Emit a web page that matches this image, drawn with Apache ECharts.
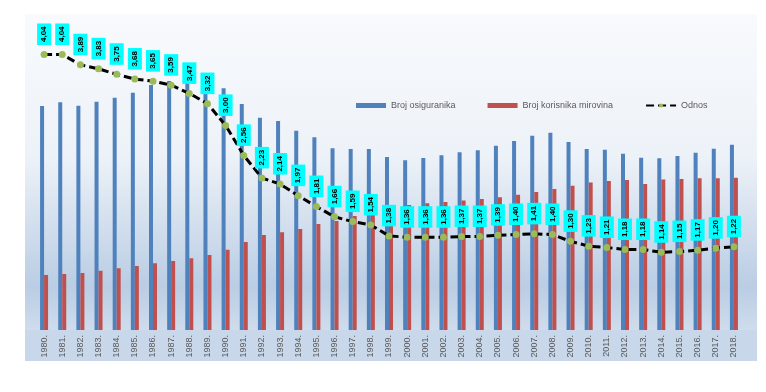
<!DOCTYPE html>
<html>
<head>
<meta charset="utf-8">
<script src="https://cdn.jsdelivr.net/npm/echarts@6/dist/echarts.min.js"></script>
<style>html,body{margin:0;padding:0;background:#fff}#c{width:766px;height:392px}</style>
</head>
<body>
<div id="c"></div>
<script>
const years = ['1980.','1981.','1982.','1983.','1984.','1985.','1986.','1987.','1988.','1989.','1990.','1991.','1992.','1993.','1994.','1995.','1996.','1997.','1998.','1999.','2000.','2001.','2002.','2003.','2004.','2005.','2006.','2007.','2008.','2009.','2010.','2011.','2012.','2013.','2014.','2015.','2016.','2017.','2018.'];
// Broj osiguranika (thousands, estimated)
const osiguranici = [1792,1822,1794,1826,1858,1898,1960,1992,1990,1992,1934,1808,1698,1672,1594,1542,1454,1448,1448,1384,1358,1376,1398,1422,1438,1474,1512,1554,1578,1504,1448,1442,1410,1378,1374,1392,1418,1450,1482];
// Broj korisnika mirovina (thousands, estimated)
const korisnici = [440,448,456,474,494,512,534,552,574,600,642,704,760,782,808,848,872,912,940,1000,1000,1014,1024,1036,1048,1062,1082,1104,1128,1154,1180,1192,1200,1168,1204,1208,1214,1214,1218];
// Odnos
const odnos = [4.04,4.04,3.89,3.83,3.75,3.68,3.65,3.59,3.47,3.32,3.00,2.56,2.23,2.14,1.97,1.81,1.66,1.59,1.54,1.38,1.36,1.36,1.36,1.37,1.37,1.39,1.40,1.41,1.40,1.30,1.23,1.21,1.18,1.18,1.14,1.15,1.17,1.20,1.22];

const chart = echarts.init(document.getElementById('c'), null, {renderer:'canvas'});
const FONT = 'Liberation Sans';
chart.setOption({
  animation:false,
  backgroundColor:'#ffffff',
  graphic:[
    {type:'rect', z:-10, silent:true, shape:{x:25,y:14,width:732,height:316},
     style:{fill:new echarts.graphic.LinearGradient(0,0,0,1,[
       {offset:0,color:'#F8FAFD'},
       {offset:0.45,color:'#EDF2F8'},
       {offset:0.72,color:'#CCDAEB'},
       {offset:0.86,color:'#BACDE4'},
       {offset:1,color:'#CFDCEC'}])}},
    {type:'rect', z:-10, silent:true, shape:{x:25,y:330,width:732,height:31},
     style:{fill:'#C8D7EA'}}
  ],
  grid:{left:35,right:23,top:30,bottom:62},
  legend:{
    left:351, top:96, itemWidth:30, itemHeight:5, itemGap:32,
    textStyle:{fontFamily:FONT,fontSize:9,color:'#595959'},
    data:[
      {name:'Broj osiguranika', icon:'rect'},
      {name:'Broj korisnika mirovina', icon:'rect'},
      {name:'Odnos'}
    ]
  },
  xAxis:{
    type:'category', data:years,
    axisLine:{show:false}, axisTick:{show:false},
    axisLabel:{rotate:90, margin:5, fontFamily:FONT, fontSize:9, color:'#595959'}
  },
  yAxis:[
    {type:'value', min:0, max:2400, show:false, splitLine:{show:false}},
    {type:'value', min:0, max:4.4, show:false, splitLine:{show:false}}
  ],
  series:[
    {name:'Broj osiguranika', type:'bar', data:osiguranici, barWidth:4, barGap:'0%',
     itemStyle:{color:'#4F81BD'}},
    {name:'Broj korisnika mirovina', type:'bar', data:korisnici, barWidth:4, barGap:'0%',
     itemStyle:{color:'#C0504D'}},
    {name:'Odnos', type:'line', yAxisIndex:1, data:odnos, z:5,
     lineStyle:{color:'#000000', width:3, type:[8,4]},
     itemStyle:{color:'#9BBB59'}, symbol:'circle', symbolSize:7,
     label:{show:true, position:'top', distance:6, rotate:90, align:'left', verticalAlign:'middle',
       formatter:p=>p.value.toFixed(2).replace('.',','),
       fontFamily:FONT, fontSize:8, fontWeight:'bold', color:'#000', lineHeight:10,
       backgroundColor:'#00FFFF', padding:[2,3]}
    }
  ]
});
</script>
</body>
</html>
